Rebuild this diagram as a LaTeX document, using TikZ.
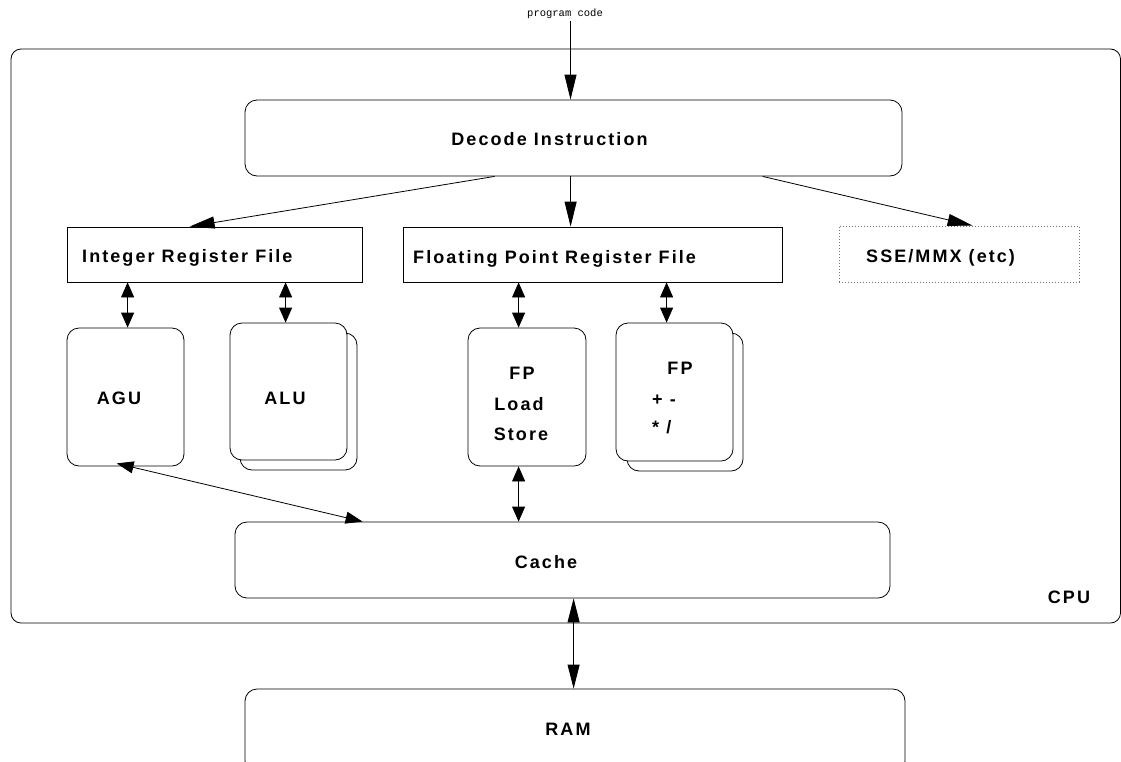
\documentclass[tikz,border=0pt]{standalone}
\usepackage{fontspec}
\setmainfont{Liberation Sans}
\newfontfamily\labfont{Liberation Sans}[LetterSpace=11.5]
\newfontfamily\codefont{Liberation Mono}
\usetikzlibrary{arrows.meta,calc}
\begin{document}
\begin{tikzpicture}[x=1pt,y=-1pt,
  box/.style={draw, line width=0.8pt, inner sep=0pt, rounded corners=12pt},
  sqbox/.style={draw, line width=0.8pt, inner sep=0pt},
  dotbox/.style={draw=black!55, line width=0.8pt, dash pattern=on 0.9pt off 2.1pt, inner sep=0pt},
  txt/.style={font=\labfont\bfseries\fontsize{18}{21}\selectfont, inner sep=0pt, anchor=base},
  ltxt/.style={txt, anchor=base west},
  arr/.style={-{Triangle[length=25pt,width=12pt]}, line width=0.8pt},
  darr/.style={{Triangle[length=24pt,width=12pt]}-{Triangle[length=24pt,width=12pt]}, line width=0.8pt},
  marr/.style={{Triangle[length=17pt,width=12pt]}-{Triangle[length=17pt,width=12pt]}, line width=0.8pt},
  sarr/.style={{Triangle[length=15pt,width=13pt]}-{Triangle[length=15pt,width=13pt]}, line width=0.8pt},
]
\useasboundingbox (0,0) rectangle (1121,761);
\clip (0,0) rectangle (1121,761);

% CPU container
\node[box, rounded corners=10pt, minimum width=1109.5pt, minimum height=574pt] (cpu) at (565.75,336) {};
\node[txt] (cpulab) at (1069,603) {CPU};

% program code
\node[font=\codefont\fontsize{10.5}{12}\selectfont, inner sep=0pt, anchor=base] (pc) at (565,16) {program code};

% Decode
\node[box, minimum width=657pt, minimum height=76pt] (dec) at (573.5,138) {};
\node[txt] (declab) at (549.5,145) {Decode Instruction};

% Register files
\node[sqbox, minimum width=295pt, minimum height=55pt] (irf) at (214.5,254.5) {};
\node[ltxt] (irflab) at (82,262) {Integer Register File};
\node[sqbox, minimum width=379pt, minimum height=55pt] (fprf) at (592.5,254.5) {};
\node[ltxt] (fprflab) at (413,263) {Floating Point Register File};
\node[dotbox, minimum width=240pt, minimum height=56pt] (sse) at (959,254) {};
\node[ltxt] (sselab) at (866,262) {SSE/MMX (etc)};

% Units
\node[box, minimum width=117pt, minimum height=138pt] (agu) at (125.5,397) {};
\node[txt] (agulab) at (119,404) {AGU};

\node[box, minimum width=117pt, minimum height=137pt] (aluback) at (298.5,401.5) {};
\node[box, fill=white, minimum width=117pt, minimum height=137pt] (alu) at (288.5,391.5) {};
\node[txt] (alulab) at (285,404) {ALU};

\node[box, minimum width=118pt, minimum height=138pt] (fpls) at (527,397) {};
\node[txt] (fpls1) at (522,379) {FP};
\node[txt] (fpls2) at (519,410) {Load};
\node[txt] (fpls3) at (521,440) {Store};

\node[box, minimum width=116pt, minimum height=138pt] (fparback) at (685,402) {};
\node[box, fill=white, minimum width=117pt, minimum height=138pt] (fpar) at (674.5,392) {};
\node[txt] (fpar1) at (680,374) {FP};
\node[ltxt] (fpar2) at (652,405) {+ -};
\node[ltxt] (fpar3) at (652,433) {* /};

% Cache and RAM
\node[box, minimum width=655pt, minimum height=76pt] (cache) at (562.5,560) {};
\node[txt] (cachelab) at (546,568) {Cache};
\node[box, minimum width=660pt, minimum height=84pt] (ram) at (575,731) {};
\node[txt] (ramlab) at (568,735) {RAM};

% Connectors
\draw[arr] ([xshift=5.5pt,yshift=-3pt]pc.south) coordinate (p1) -- (p1 |- dec.north);
\draw[arr] ([xshift=250pt]dec.south west) -- ([xshift=123pt]irf.north west);
\draw[arr] ([xshift=326pt]dec.south west) coordinate (d2) -- (d2 |- fprf.north);
\draw[arr] ([xshift=518pt]dec.south west) -- ([xshift=134pt]sse.north west);

\draw[sarr] ([xshift=61pt]irf.south west) coordinate (i1) -- (i1 |- agu.north);
\draw[sarr] ([xshift=219pt]irf.south west) coordinate (i2) -- (i2 |- alu.north);
\draw[sarr] ([xshift=116pt]fprf.south west) coordinate (f1) -- (f1 |- fpls.north);
\draw[sarr] ([xshift=264pt]fprf.south west) coordinate (f2) -- (f2 |- fpar.north);

\draw[marr] ([xshift=50pt,yshift=3pt]agu.south west) -- ([xshift=128pt]cache.north west);
\draw[sarr] ([xshift=51pt]fpls.south west) coordinate (l1) -- (l1 |- cache.north);
\draw[darr] ([xshift=339pt]cache.south west) coordinate (c1) -- (c1 |- ram.north);
\end{tikzpicture}
\end{document}
